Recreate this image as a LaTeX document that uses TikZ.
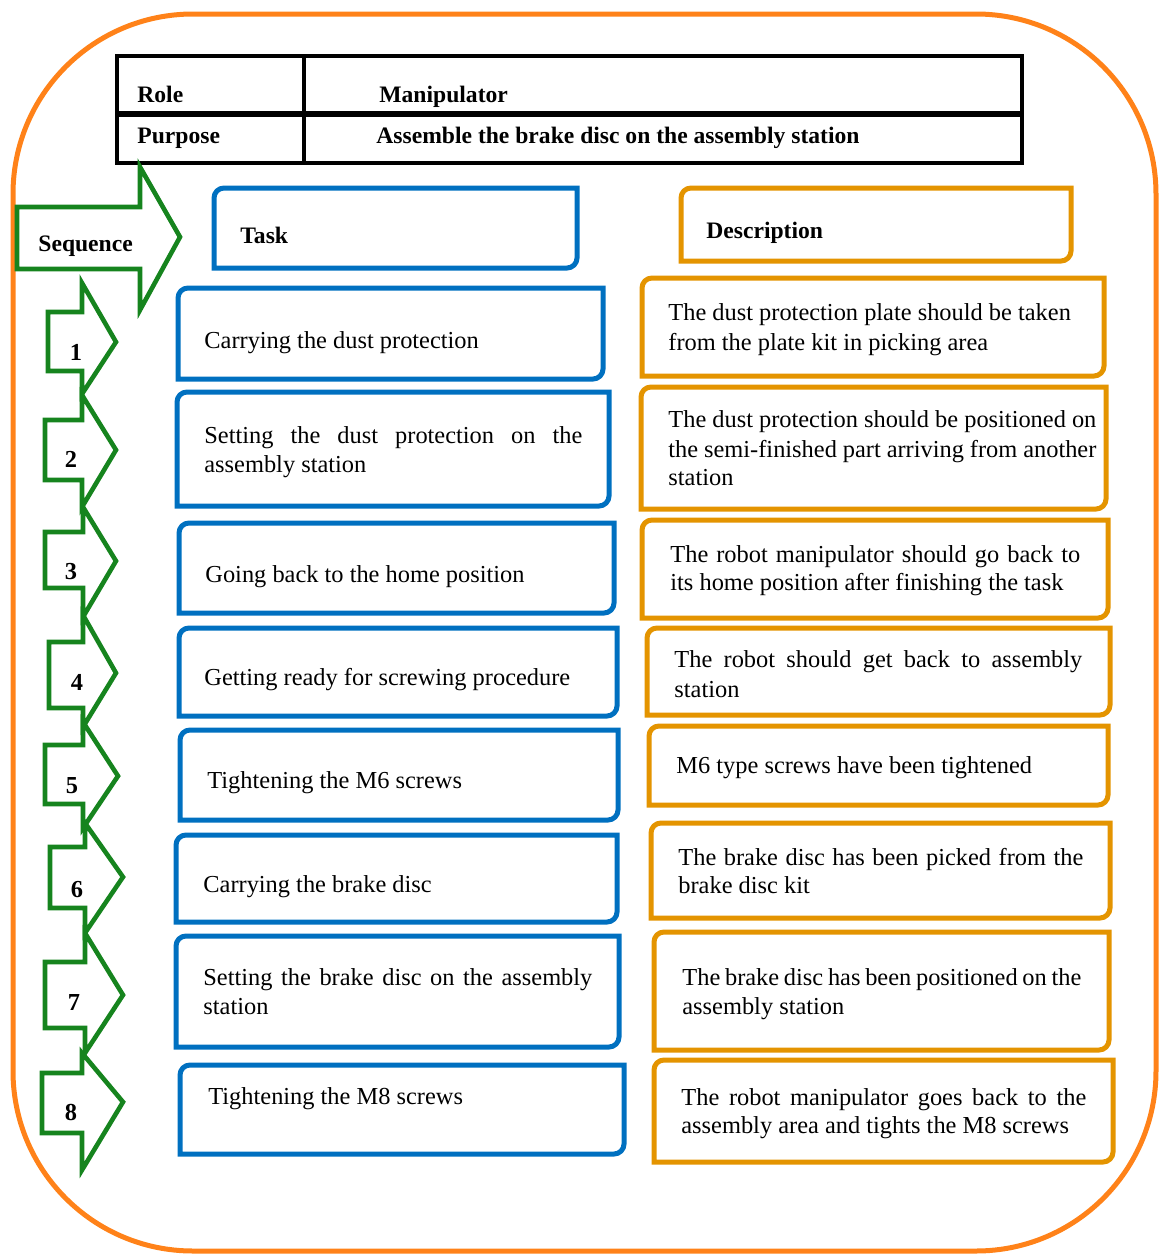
\documentclass[tikz,border=0pt]{standalone}
\usepackage{fontspec}
\setmainfont{Liberation Serif}
\usetikzlibrary{fit}
\definecolor{cblue}{RGB}{0,112,192}
\definecolor{corange}{RGB}{228,148,0}
\definecolor{cframe}{RGB}{255,130,25}
\definecolor{cgreen}{RGB}{22,132,30}
\newcommand\crad{5pt}
\newcommand\cornerbox[6]{%
  \coordinate (#1-nw) at (#2,#3);
  \coordinate (#1-se) at (#4,#5);
  \node[fit=(#1-nw)(#1-se), inner sep=0pt, outer sep=0pt] (#1) {};
  \draw[#6] (#1.south west) -- ([yshift=-\crad]#1.north west)
     arc[start angle=180, end angle=90, radius=\crad] -- (#1.north east)
     -- ([yshift=\crad]#1.south east)
     arc[start angle=0, end angle=-90, radius=\crad] -- cycle;
}
\tikzset{
  blueln/.style={draw=cblue, line width=2.5pt, line join=miter},
  orln/.style={draw=corange, line width=2.5pt, line join=miter},
  grn/.style={draw=cgreen, line width=2.3pt, line join=miter},
  tbl/.style={draw=black, line width=2pt},
  frameln/.style={draw=cframe, line width=2.5pt},
  txt/.style={anchor=base west, inner sep=0pt, font=\fontsize{12.2pt}{14.7pt}\selectfont},
  btxt/.style={anchor=base west, inner sep=0pt, font=\fontsize{11.8pt}{14.7pt}\selectfont\bfseries},
  numtxt/.style={anchor=base, inner sep=0pt, font=\fontsize{12.2pt}{14.7pt}\selectfont\bfseries},
}
\begin{document}
\begin{tikzpicture}[x=0.5pt,y=-0.5pt]
\useasboundingbox (0,0) rectangle (1159,1254);
% outer frame
\draw[frameln, rounded corners=90pt] (13,14) rectangle (1156,1251);

% table
\draw[tbl] (117,56) rectangle (1022,163);
\draw[tbl, line width=3pt] (117,114) -- (1022,114);
\draw[tbl] (304,56) -- (304,163);
\node[btxt] (role) at (137,102) {Role};
\node[btxt] (manip) at (379,102) {Manipulator};
\node[btxt] (purp) at (137,143) {Purpose};
\node[btxt] (assem) at (376,143) {Assemble the brake disc on the assembly station};

% sequence arrow
\draw[grn] (17,207) -- (140,207) -- (140,167) -- (180,237) -- (140,310) -- (140,269) -- (17,269) -- cycle;
\node[btxt] (seq) at (38,251) {Sequence};

% numbered arrows
\draw[grn] (48,312) -- (82,312) -- (82,283) -- (116,342) -- (82,394) -- (82,371) -- (48,371) -- cycle;
\draw[grn] (45,420) -- (82,420) -- (82,395) -- (116,450) -- (82,507) -- (82,480) -- (45,480) -- cycle;
\draw[grn] (45,532) -- (83,532) -- (83,507) -- (116,561) -- (83,617) -- (83,588) -- (45,588) -- cycle;
\draw[grn] (49,642) -- (83,642) -- (83,615) -- (116,673) -- (83,727) -- (83,708) -- (49,708) -- cycle;
\draw[grn] (45,745) -- (83,745) -- (83,722) -- (118,776) -- (83,828) -- (83,804) -- (45,804) -- cycle;
\draw[grn] (50,847) -- (85,847) -- (85,823) -- (123,877) -- (85,933) -- (85,908) -- (50,908) -- cycle;
\draw[grn] (45,962) -- (85,962) -- (85,933) -- (123,995) -- (85,1053) -- (85,1028) -- (45,1028) -- cycle;
\draw[grn] (42,1073) -- (82,1073) -- (82,1053) -- (123,1102) -- (82,1170) -- (82,1133) -- (42,1133) -- cycle;
\node[numtxt] (n1) at (76,360) {1};
\node[numtxt] (n2) at (71,467) {2};
\node[numtxt] (n3) at (71,579) {3};
\node[numtxt] (n4) at (77,690) {4};
\node[numtxt] (n5) at (72,793) {5};
\node[numtxt] (n6) at (77,897) {6};
\node[numtxt] (n7) at (74,1010) {7};
\node[numtxt] (n8) at (71,1120) {8};

% header boxes
\cornerbox{task}{214}{188}{577}{268}{blueln}
\node[btxt] (taskt) at (240,243) {Task};
\cornerbox{desc}{681}{188}{1071}{261}{orln}
\node[btxt] (desct) at (706,238) {Description};

% task boxes
\cornerbox{b1}{178}{288}{603}{379}{blueln}
\node[txt] (b1a) at (204,348) {Carrying the dust protection};
\cornerbox{b2}{177}{392}{609}{506}{blueln}
\node[txt] (b2a) at (204,443) {\makebox[189pt][s]{Setting the dust protection on the}};
\node[txt] (b2b) at (204,472) {assembly station};
\cornerbox{b3}{179}{523}{614}{613}{blueln}
\node[txt] (b3a) at (205,582) {Going back to the home position};
\cornerbox{b4}{179}{628}{617}{716}{blueln}
\node[txt] (b4a) at (204,685) {Getting ready for screwing procedure};
\cornerbox{b5}{180}{730}{618}{820}{blueln}
\node[txt] (b5a) at (207,788) {Tightening the M6 screws};
\cornerbox{b6}{176}{835}{617}{922}{blueln}
\node[txt] (b6a) at (203,892) {Carrying the brake disc};
\cornerbox{b7}{176}{936}{619}{1047}{blueln}
\node[txt] (b7a) at (203,985) {\makebox[194.5pt][s]{Setting the brake disc on the assembly}};
\node[txt] (b7b) at (203,1014) {station};
\cornerbox{b8}{180}{1065}{624}{1154}{blueln}
\node[txt] (b8a) at (208,1104) {Tightening the M8 screws};

% description boxes
\cornerbox{o1}{642}{278}{1104}{376}{orln}
\node[txt] (o1a) at (668,320) {The dust protection plate should be taken};
\node[txt] (o1b) at (668,350) {from the plate kit in picking area};
\cornerbox{o2}{641}{387}{1106}{509}{orln}
\node[txt] (o2a) at (668,427) {\makebox[214pt][s]{The dust protection should be positioned on}};
\node[txt] (o2b) at (668,457) {\makebox[214pt][s]{the semi-finished part arriving from another}};
\node[txt] (o2c) at (668,485) {station};
\cornerbox{o3}{642}{520}{1108}{618}{orln}
\node[txt] (o3a) at (670,562) {\makebox[205pt][s]{The robot manipulator should go back to}};
\node[txt] (o3b) at (670,590) {its home position after finishing the task};
\cornerbox{o4}{647}{628}{1110}{715}{orln}
\node[txt] (o4a) at (674,667) {\makebox[204pt][s]{The robot should get back to assembly}};
\node[txt] (o4b) at (674,697) {station};
\cornerbox{o5}{649}{726}{1108}{805}{orln}
\node[txt] (o5a) at (676,773) {M6 type screws have been tightened};
\cornerbox{o6}{651}{823}{1110}{918}{orln}
\node[txt] (o6a) at (678,865) {\makebox[202.5pt][s]{The brake disc has been picked from the}};
\node[txt] (o6b) at (678,893) {brake disc kit};
\cornerbox{o7}{654}{932}{1109}{1050}{orln}
\node[txt] (o7a) at (682,985) {\makebox[199.5pt][s]{The brake disc has been positioned on the}};
\node[txt] (o7b) at (682,1014) {assembly station};
\cornerbox{o8}{654}{1060}{1113}{1162}{orln}
\node[txt] (o8a) at (681,1105) {\makebox[202.5pt][s]{The robot manipulator goes back to the}};
\node[txt] (o8b) at (681,1133) {assembly area and tights the M8 screws};
\end{tikzpicture}
\end{document}
